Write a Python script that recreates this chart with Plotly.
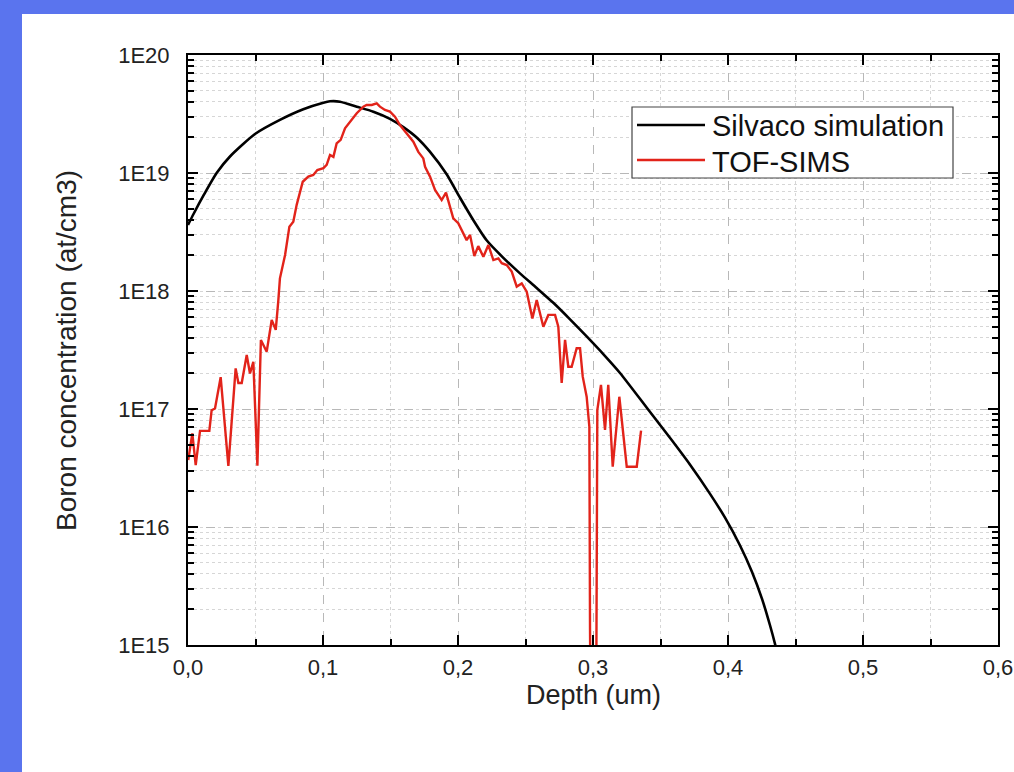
import plotly.graph_objects as go

# ---- data ----
sim_depth = [0.0, 0.004, 0.012, 0.0212, 0.0311, 0.0496, 0.0681, 0.0854, 0.1003, 0.1052,
             0.1126, 0.125, 0.1373, 0.1496, 0.1595, 0.1694, 0.1793, 0.1916, 0.2015, 0.2114,
             0.2212, 0.2336, 0.2459, 0.2583, 0.2706, 0.283, 0.2953, 0.3076, 0.32, 0.34,
             0.357, 0.3719, 0.3867, 0.3978, 0.4089, 0.4178, 0.4252, 0.4311, 0.4356, 0.4385]
sim_conc = [3.63e18, 4.47e18, 6.61e18, 1.0e19, 1.38e19, 2.14e19, 2.82e19, 3.47e19, 3.94e19, 4.05e19,
            4.02e19, 3.65e19, 3.31e19, 2.88e19, 2.45e19, 2.0e19, 1.51e19, 9.77e18, 6.17e18, 3.98e18,
            2.69e18, 1.91e18, 1.41e18, 1.06e18, 7.94e17, 5.75e17, 4.12e17, 2.92e17, 2.02e17, 1.02e17,
            5.70e16, 3.37e16, 1.91e16, 1.20e16, 6.97e15, 4.16e15, 2.46e15, 1.47e15, 9.42e14, 6.76e14]

sims_depth = [0.0002, 0.0032, 0.0057, 0.0089, 0.0158, 0.0175, 0.020, 0.0242, 0.0299, 0.0353,
              0.0373, 0.0398, 0.0435, 0.0459, 0.0484, 0.0514, 0.054, 0.0583, 0.062, 0.065,
              0.0669, 0.0681, 0.0719, 0.0751, 0.078, 0.0805, 0.085, 0.0891, 0.0928, 0.0958,
              0.1003, 0.1027, 0.1052, 0.1077, 0.1101, 0.1131, 0.1163, 0.12, 0.125, 0.1299,
              0.1323, 0.1361, 0.1398, 0.1422, 0.1459, 0.1496, 0.1533, 0.157, 0.162, 0.1669,
              0.1706, 0.1743, 0.1756, 0.1793, 0.183, 0.1879, 0.1911, 0.1941, 0.1965, 0.2002,
              0.2027, 0.2064, 0.2089, 0.2121, 0.215, 0.2188, 0.2225, 0.2262, 0.2299, 0.2324,
              0.2361, 0.2398, 0.2435, 0.2472, 0.2509, 0.2551, 0.2583, 0.2632, 0.2669, 0.2719,
              0.2743, 0.2768, 0.2793, 0.2817, 0.2842, 0.2879, 0.2904, 0.2924, 0.2953, 0.2973,
              0.2978, 0.2985, 0.3022, 0.3032, 0.3059, 0.3089, 0.3113, 0.3146, 0.3195, 0.325,
              0.3324, 0.3356]
sims_conc = [3.70e16, 6.22e16, 3.35e16, 6.52e16, 6.52e16, 9.77e16, 1.01e17, 1.86e17, 3.30e16, 2.21e17,
             1.66e17, 1.66e17, 2.87e17, 2.0e17, 2.51e17, 3.30e16, 3.85e17, 3.06e17, 5.68e17, 4.68e17,
             8.3e17, 1.28e18, 2.02e18, 3.51e18, 3.86e18, 5.37e18, 8.43e18, 9.31e18, 9.62e18, 1.06e19,
             1.10e19, 1.17e19, 1.42e19, 1.37e19, 1.78e19, 1.91e19, 2.39e19, 2.72e19, 3.21e19, 3.65e19,
             3.77e19, 3.77e19, 3.89e19, 3.65e19, 3.42e19, 3.31e19, 3.0e19, 2.55e19, 2.17e19, 1.84e19,
             1.51e19, 1.33e19, 1.13e19, 9.31e18, 7.18e18, 5.9e18, 6.81e18, 5.18e18, 4.13e18, 3.75e18,
             3.29e18, 2.7e18, 2.99e18, 1.98e18, 2.40e18, 1.95e18, 2.45e18, 1.83e18, 1.89e18, 1.72e18,
             1.66e18, 1.46e18, 1.09e18, 1.16e18, 9.86e17, 5.86e17, 8.39e17, 4.98e17, 6.27e17, 6.27e17,
             4.98e17, 1.66e17, 3.85e17, 2.28e17, 2.28e17, 3.27e17, 3.27e17, 1.88e17, 1.27e17, 7.08e16,
             1.34e15, 1.0e14, 1.0e14, 9.77e16, 1.60e17, 6.64e16, 1.60e17, 3.24e16, 1.27e17, 3.24e16,
             3.24e16, 6.55e16]

y_tickvals = [1e15, 1e16, 1e17, 1e18, 1e19, 1e20]
y_ticktext = ["1E15", "1E16", "1E17", "1E18", "1E19", "1E20"]
series_names = ["Silvaco simulation", "TOF-SIMS"]
series_colors = ["#000000", "#e2231a"]
x_title = "Depth (um)"
y_title = "Boron concentration (at/cm3)"

FONT = "Liberation Sans, Arial, sans-serif"
TXT = "#222222"

fig = go.Figure()
fig.add_trace(go.Scatter(x=sim_depth, y=sim_conc, mode="lines", name=series_names[0],
                         line=dict(color=series_colors[0], width=2.6, shape="spline", smoothing=0.6)))
fig.add_trace(go.Scatter(x=sims_depth, y=sims_conc, mode="lines", name=series_names[1],
                         line=dict(color=series_colors[1], width=2.4)))

# plot area in pixels: x 188..998, y 55..645
L, R, T, B = 188, 998, 55, 645
W, H = 1014, 772
def px(xp):
    return (xp - L) / (R - L)
def py(yp):
    return (B - yp) / (B - T)

shapes = [
    dict(type="rect", xref="paper", yref="paper", x0=px(22), x1=px(W + 5), y0=py(H + 5), y1=py(14),
         fillcolor="white", line=dict(width=0), layer="below"),
    dict(type="rect", xref="paper", yref="paper", x0=px(632), x1=px(953), y0=py(178), y1=py(107),
         fillcolor="white", line=dict(color="#444444", width=1.2), layer="above"),
    dict(type="line", xref="paper", yref="paper", x0=px(637), x1=px(705), y0=py(125), y1=py(125),
         line=dict(color=series_colors[0], width=2.6), layer="above"),
    dict(type="line", xref="paper", yref="paper", x0=px(637), x1=px(705), y0=py(160), y1=py(160),
         line=dict(color=series_colors[1], width=2.4), layer="above"),
]
annotations = [
    dict(xref="paper", yref="paper", x=px(710), y=py(126), text=series_names[0], showarrow=False,
         xanchor="left", yanchor="middle", font=dict(family=FONT, size=29, color="#111111")),
    dict(xref="paper", yref="paper", x=px(710), y=py(162), text=series_names[1], showarrow=False,
         xanchor="left", yanchor="middle", font=dict(family=FONT, size=29, color="#111111")),
    dict(xref="paper", yref="paper", x=0.5, y=py(695), text=x_title, showarrow=False,
         xanchor="center", yanchor="middle", font=dict(family=FONT, size=27, color=TXT)),
    dict(xref="paper", yref="paper", x=px(66), y=0.5, text=y_title, showarrow=False, textangle=-90,
         xanchor="center", yanchor="middle", font=dict(family=FONT, size=28, color=TXT)),
]

fig.update_layout(
    width=W, height=H, autosize=False,
    margin=dict(l=L, r=W - R, t=T, b=H - B),
    paper_bgcolor="#5a74ee", plot_bgcolor="white",
    separators=",.",
    showlegend=False,
    font=dict(family=FONT, color=TXT),
    shapes=shapes, annotations=annotations,
)
fig.update_xaxes(
    range=[0, 0.6], tick0=0, dtick=0.1, tickformat=".1f",
    ticks="inside", ticklen=10, tickwidth=2, tickcolor="black",
    showline=True, linewidth=2, linecolor="black", mirror="allticks",
    showgrid=True, gridcolor="#b8b8b8", griddash="dash", gridwidth=1,
    zeroline=False,
    minor=dict(dtick=0.05, ticks="inside", ticklen=6, tickwidth=2, tickcolor="black",
               showgrid=True, gridcolor="#d6d6d6", griddash="dot", gridwidth=1),
    tickfont=dict(family=FONT, size=22, color=TXT), ticklabelstandoff=2,
    automargin=False,
)
fig.update_yaxes(
    type="log", range=[15, 20], tickmode="array", tickvals=y_tickvals, ticktext=y_ticktext,
    ticks="inside", ticklen=10, tickwidth=2, tickcolor="black",
    showline=True, linewidth=2, linecolor="black", mirror="allticks",
    showgrid=True, gridcolor="#b8b8b8", griddash="dash", gridwidth=1,
    zeroline=False,
    minor=dict(dtick="D1", ticks="inside", ticklen=6, tickwidth=2, tickcolor="black",
               showgrid=True, gridcolor="#d6d6d6", griddash="dot", gridwidth=1),
    tickfont=dict(family=FONT, size=22, color=TXT), ticklabelstandoff=12,
    automargin=False,
)

fig.write_html("out.html")
